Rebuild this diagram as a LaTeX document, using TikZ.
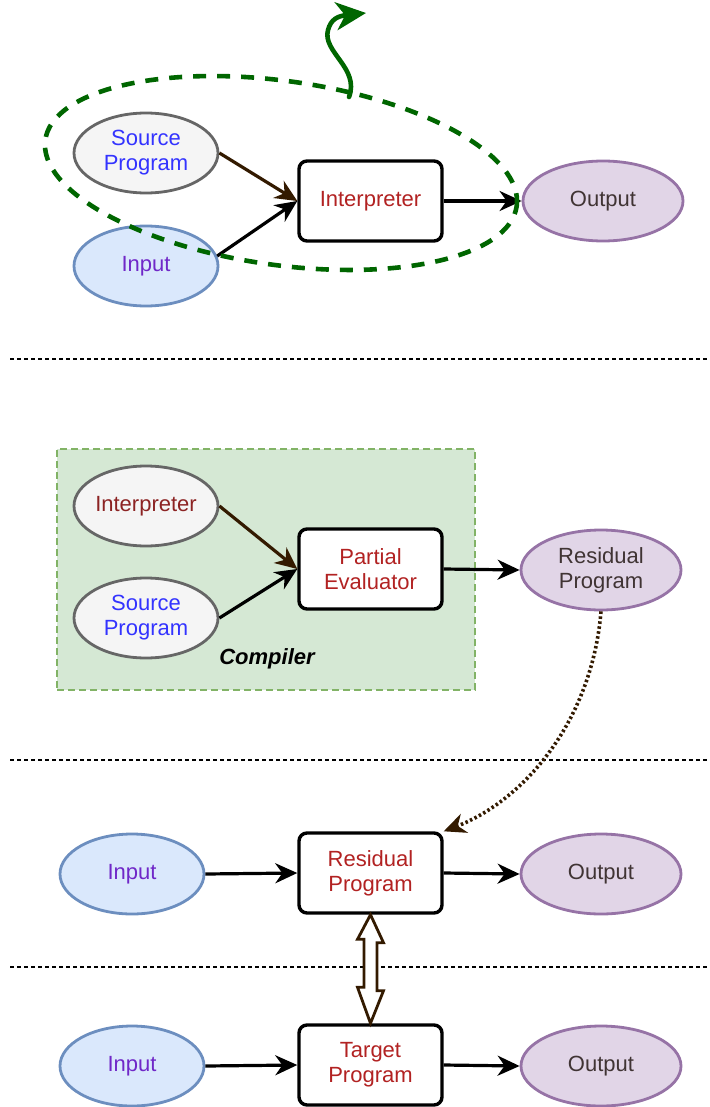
\documentclass[tikz,border=0pt]{standalone}
\usepackage{fontspec}
\setmainfont{Liberation Sans}
\usetikzlibrary{shapes.geometric,arrows.meta}

\definecolor{srcblue}{RGB}{51,51,255}
\definecolor{inpurple}{RGB}{112,40,200}
\definecolor{redtxt}{RGB}{178,34,34}
\definecolor{darkredtxt}{RGB}{140,35,35}
\definecolor{outtxt}{RGB}{64,52,52}
\definecolor{brownln}{RGB}{51,26,0}
\definecolor{dkgreen}{RGB}{0,102,0}
\definecolor{grayfill}{RGB}{245,245,245}
\definecolor{graystroke}{RGB}{102,102,102}
\definecolor{bluefill}{RGB}{218,232,252}
\definecolor{bluestroke}{RGB}{108,142,191}
\definecolor{purfill}{RGB}{225,213,231}
\definecolor{purstroke}{RGB}{150,115,166}
\definecolor{grnfill}{RGB}{213,232,212}
\definecolor{grnstroke}{RGB}{130,179,102}

\tikzset{
  txt/.style={font=\fontsize{22}{25}\selectfont, align=center},
  oval/.style={txt, ellipse, inner sep=0pt, minimum width=144pt, minimum height=80pt, line width=2.8pt},
  grayoval/.style={oval, draw=graystroke, fill=grayfill},
  blueoval/.style={oval, draw=bluestroke, fill=bluefill, text=inpurple},
  puroval/.style={oval, draw=purstroke, fill=purfill, text=outtxt, minimum width=160pt},
  procbox/.style={txt, draw=black, fill=white, line width=3.4pt, rounded corners=8pt,
                  minimum width=143pt, minimum height=80pt, inner sep=0pt, text=redtxt},
  flow/.style={line width=3.2pt, -{Stealth[length=22pt,width=20pt,inset=7pt]}},
  sep/.style={line width=1.4pt, dash pattern=on 4pt off 3pt},
}

\begin{document}
\begin{tikzpicture}[x=1pt,y=-1pt]
\useasboundingbox (0,0) rectangle (709,1107);

% ---------- interpreter ----------
\node[grayoval, text=srcblue] (sp1) at (146,153) {Source\\Program};
\node[blueoval] (in1) at (146,266) {Input};
\node[procbox] (int1) at (370.5,201) {Interpreter};
\node[puroval] (out1) at (603,201) {Output};

\draw[flow, brownln] (sp1.east) -- (int1.west);
\draw[flow] (in1.8) -- (int1.west);
\draw[flow] (int1.east) -- (out1.west);

% dashed boundary round the interpreter and its program
\coordinate (ring) at (281,173);
\draw[dkgreen, line width=4.6pt, dash pattern=on 13pt off 11pt, rotate around={-8:(ring)}]
  (ring) ellipse [x radius=238pt, y radius=92pt];
\coordinate (wavyA) at (349,97);
\coordinate (wavyB) at (366,13);
\draw[dkgreen, line width=4.6pt, line cap=round, -{Stealth[length=30pt,width=28pt,inset=9pt]}]
  (wavyA) .. controls (360,68) and (322,52) .. (328,30)
          .. controls (331,19) and (338,16) .. (wavyB);

\draw[sep] (10,359) -- (707,359);

% ---------- partial evaluation ----------
\node[draw=grnstroke, fill=grnfill, line width=2.6pt, dash pattern=on 7pt off 4pt,
      minimum width=418pt, minimum height=241pt, inner sep=0pt] (comp) at (266,569.5) {};
\node[font=\fontsize{22}{25}\selectfont\bfseries\itshape] (complbl) at (267,659) {Compiler};

\node[grayoval, text=darkredtxt] (int2) at (146,506) {Interpreter};
\node[grayoval, text=srcblue] (sp2) at (146,618) {Source\\Program};
\node[procbox] (pe) at (370.5,569) {Partial\\Evaluator};
\node[puroval] (res) at (601,570) {Residual\\Program};

\draw[flow, brownln] (int2.east) -- (pe.west);
\draw[flow] (sp2.east) -- (pe.west);
\draw[flow] (pe.east) -- (res.west);

\draw[sep] (10,760) -- (707,760);

% ---------- running the residual program ----------
\node[blueoval] (in3) at (132,874) {Input};
\node[procbox] (rp) at (370.5,873) {Residual\\Program};
\node[puroval] (out3) at (601,874) {Output};

\draw[flow] (in3.east) -- (rp.west);
\draw[flow] (rp.east) -- (out3.west);

\draw[brownln, line width=3.6pt, dash pattern=on 2.5pt off 2.5pt,
      -{Stealth[length=22pt,width=20pt,inset=7pt]}]
  (res.south) .. controls (592,720) and (525,800) .. (rp.north east);

\draw[sep] (10,967) -- (707,967);

% ---------- compiled target program ----------
\node[blueoval] (in4) at (132,1066) {Input};
\node[procbox] (tp) at (370.5,1065) {Target\\Program};
\node[puroval] (out4) at (601,1066) {Output};

\draw[flow] (in4.east) -- (tp.west);
\draw[flow] (tp.east) -- (out4.west);

% hollow double arrow: residual program equals target program
\draw[brownln, fill=white, line width=2.8pt, line join=miter]
  (rp.south) -- ++(13,28) -- ++(-6.5,0) -- ++(0,48) -- ++(6.5,0)
  -- (tp.north) -- ++(-13,-36) -- ++(6.5,0) -- ++(0,-48) -- ++(-6.5,0) -- cycle;
\end{tikzpicture}
\end{document}
